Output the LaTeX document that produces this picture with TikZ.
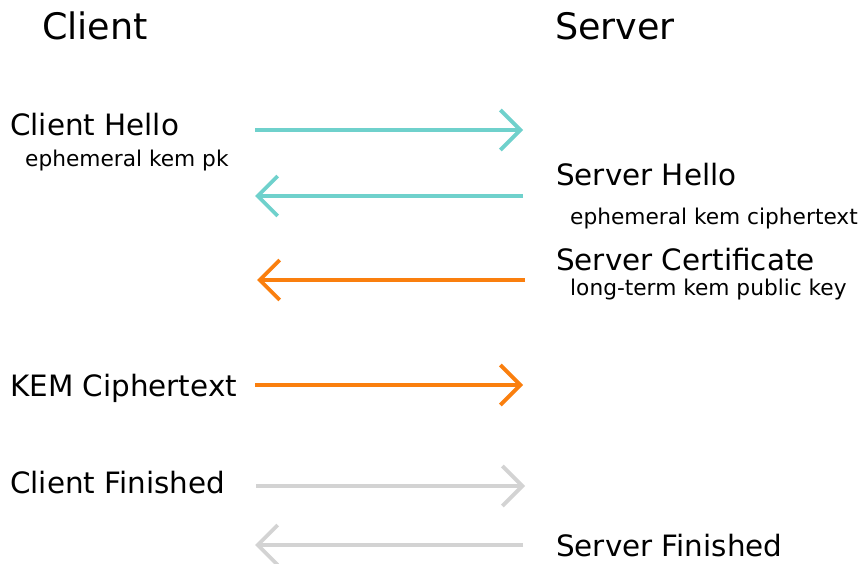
\documentclass[tikz,border=0pt]{standalone}
\usepackage{fontspec}
\setmainfont{DejaVu Sans}
\usetikzlibrary{arrows.meta}
\definecolor{tealc}{RGB}{111,209,204}
\definecolor{orangec}{RGB}{250,127,14}
\definecolor{grayc}{RGB}{211,211,211}
\tikzset{
  msg/.style={line width=3.8pt, -{Straight Barb[length=20pt,width=40pt]}},
  head/.style={anchor=base west, inner sep=0pt, font=\fontsize{36.5}{40}\selectfont},
  lbl/.style={anchor=base west, inner sep=0pt, font=\fontsize{29.4}{32}\selectfont},
  sub/.style={anchor=base west, inner sep=0pt, font=\fontsize{21.7}{24}\selectfont},
}
\begin{document}
\begin{tikzpicture}[x=1pt,y=1pt]
\useasboundingbox (0,0) rectangle (865,563);
% headers
\node[head] (client) at (42,523.5) {Client};
\node[head] (server) at (555,523.5) {Server};
% labels
\node[lbl] (ch) at (10,427) {Client Hello};
\node[sub] (chs) at (25,396) {ephemeral kem pk};
\node[lbl] (sh) at (556,377) {Server Hello};
\node[sub] (shs) at (570,338) {ephemeral kem ciphertext};
\node[lbl] (sc) at (556,292.5) {Server Certificate};
\node[sub] (scs) at (570,267) {long-term kem public key};
\node[lbl] (kc) at (10,167) {KEM Ciphertext};
\node[lbl] (cf) at (10,69.5) {Client Finished};
\node[lbl] (sf) at (556,7) {Server Finished};
% arrow endpoints
\coordinate (l1) at (255,433); \coordinate (r1) at (523,433);
\coordinate (l2) at (255,367); \coordinate (r2) at (523,367);
\coordinate (l3) at (257,283); \coordinate (r3) at (525,283);
\coordinate (l4) at (255,178); \coordinate (r4) at (523,178);
\coordinate (l5) at (256,77);  \coordinate (r5) at (525,77);
\coordinate (l6) at (255,18);  \coordinate (r6) at (523,18);
% arrows
\draw[msg, tealc] (l1) -- (r1);
\draw[msg, tealc] (r2) -- (l2);
\draw[msg, orangec] (r3) -- (l3);
\draw[msg, orangec] (l4) -- (r4);
\draw[msg, grayc] (l5) -- (r5);
\draw[msg, grayc] (r6) -- (l6);
\end{tikzpicture}
\end{document}
